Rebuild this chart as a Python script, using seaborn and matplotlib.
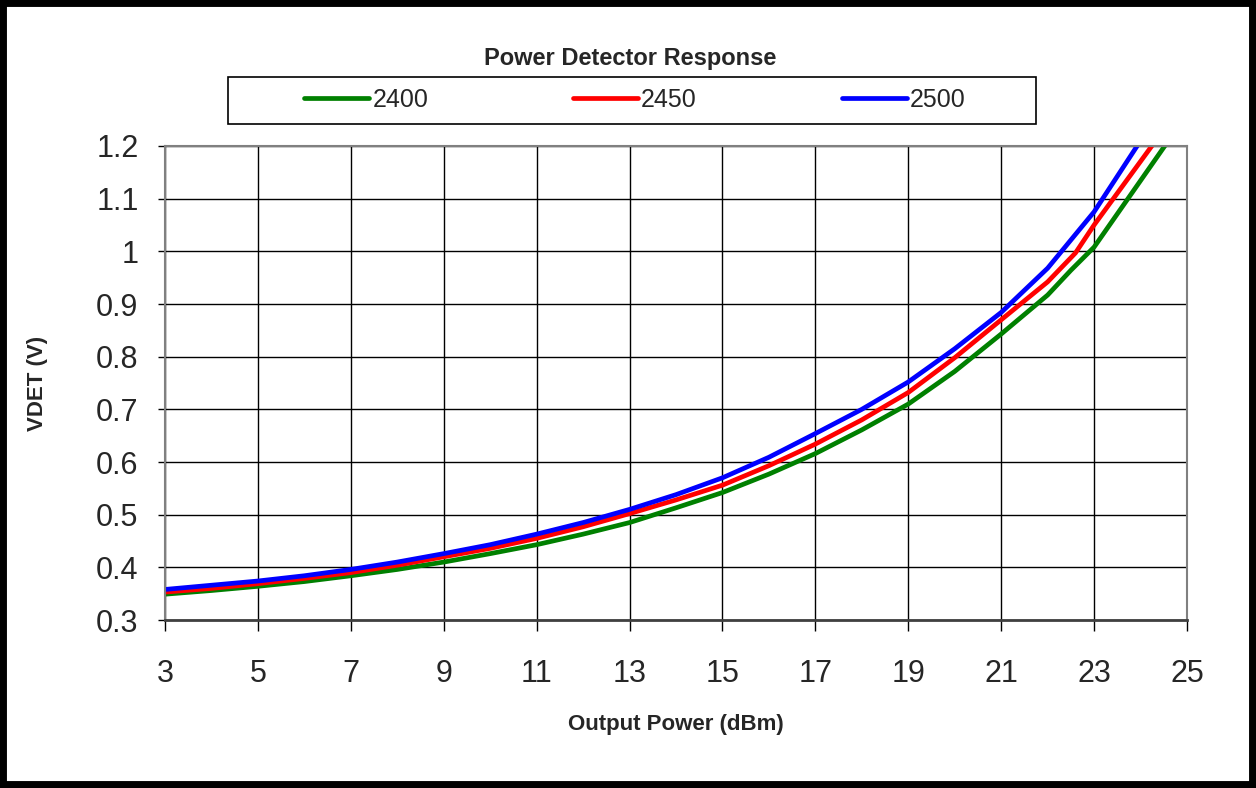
import pandas as pd
import matplotlib.pyplot as plt
import seaborn as sns
from matplotlib.patches import Rectangle

# ==============================================================================
# DATA
# ==============================================================================
x_2400 = [3, 4, 5, 6, 7, 8, 9, 10, 11, 12, 13, 14, 15, 16, 17, 18, 19, 20, 21, 22, 22.5, 23, 24.6]
v_2400 = [0.349, 0.356, 0.364, 0.373, 0.384, 0.396, 0.410, 0.426, 0.443, 0.463, 0.485, 0.513,
          0.542, 0.577, 0.616, 0.661, 0.710, 0.772, 0.843, 0.917, 0.964, 1.008, 1.210]

x_2450 = [3, 4, 5, 6, 7, 8, 9, 10, 11, 12, 13, 14, 15, 16, 17, 18, 19, 20, 21, 22, 22.6, 23, 24.3]
v_2450 = [0.353, 0.360, 0.369, 0.379, 0.390, 0.404, 0.420, 0.436, 0.455, 0.477, 0.502, 0.528,
          0.556, 0.593, 0.634, 0.680, 0.732, 0.798, 0.870, 0.942, 0.997, 1.050, 1.207]

x_2500 = [3, 4, 5, 6, 7, 8, 9, 10, 11, 12, 13, 14, 15, 16, 17, 18, 19, 20, 21, 22, 23, 24]
v_2500 = [0.358, 0.366, 0.374, 0.384, 0.396, 0.410, 0.426, 0.443, 0.463, 0.485, 0.510, 0.538,
          0.570, 0.609, 0.654, 0.700, 0.752, 0.815, 0.884, 0.968, 1.075, 1.210]

series = ['2400', '2450', '2500']
colors = {'2400': '#008000', '2450': '#FF0000', '2500': '#0000FF'}

x_ticks = [3, 5, 7, 9, 11, 13, 15, 17, 19, 21, 23, 25]
y_ticks = [0.3, 0.4, 0.5, 0.6, 0.7, 0.8, 0.9, 1.0, 1.1, 1.2]

df = pd.concat([
    pd.DataFrame({'P': x_2400, 'VDET': v_2400, 'Freq': '2400'}),
    pd.DataFrame({'P': x_2450, 'VDET': v_2450, 'Freq': '2450'}),
    pd.DataFrame({'P': x_2500, 'VDET': v_2500, 'Freq': '2500'}),
])

# ==============================================================================
# PLOT
# ==============================================================================
sns.set_style('white')
plt.rcParams['font.family'] = ['Liberation Sans', 'DejaVu Sans']

fig = plt.figure(figsize=(12.56, 7.88), dpi=100)
ax = fig.add_axes([165 / 1256, 1 - 620 / 788, 1022 / 1256, 474 / 788])

sns.lineplot(data=df, x='P', y='VDET', hue='Freq', hue_order=series, palette=colors,
             linewidth=3.4, sort=False, estimator=None, ax=ax, legend=False)

ax.set_xlim(3, 25)
ax.set_ylim(0.3, 1.2)
ax.set_xticks(x_ticks)
ax.set_yticks(y_ticks)
ax.set_yticklabels([f'{v:g}' for v in y_ticks])
ax.tick_params(axis='x', direction='out', length=8, width=1, color='black',
               labelsize=22, pad=20, bottom=True)
ax.tick_params(axis='y', direction='out', length=5, width=1, color='black',
               labelsize=22, pad=14, left=True)
ax.grid(True, color='black', linewidth=1)

for side in ['top', 'right', 'left']:
    ax.spines[side].set_color('#808080')
    ax.spines[side].set_linewidth(1.5)
ax.spines['bottom'].set_color('#404040')
ax.spines['bottom'].set_linewidth(2)

ax.set_xlabel('Output Power (dBm)', fontsize=16, fontweight='bold')
ax.set_ylabel('VDET (V)', fontsize=16, fontweight='bold')
ax.xaxis.set_label_coords(0.5, -0.198)
ax.yaxis.set_label_coords(-0.114, 0.5)

# title and legend box above the plot
fig.text(630 / 1256, 1 - 58 / 788, 'Power Detector Response', ha='center', va='center',
         fontsize=17, fontweight='bold')
fig.patches.append(Rectangle((228 / 1256, 1 - 124 / 788), 808 / 1256, 47 / 788,
                             transform=fig.transFigure, facecolor='white',
                             edgecolor='black', linewidth=1.2))
handles = [plt.Line2D([], [], color=colors[s], linewidth=3.4) for s in series]
fig.legend(handles, series, loc='center', bbox_to_anchor=(635 / 1256, 1 - 100 / 788),
           ncol=3, frameon=False, fontsize=18, handlelength=2.6, handletextpad=0.12,
           columnspacing=5.8)

# thick black frame around the whole chart
fig.patches.append(Rectangle((0, 0), 1, 1, transform=fig.transFigure, fill=False,
                             edgecolor='black', linewidth=10))

fig.savefig('out.png', dpi=100)
